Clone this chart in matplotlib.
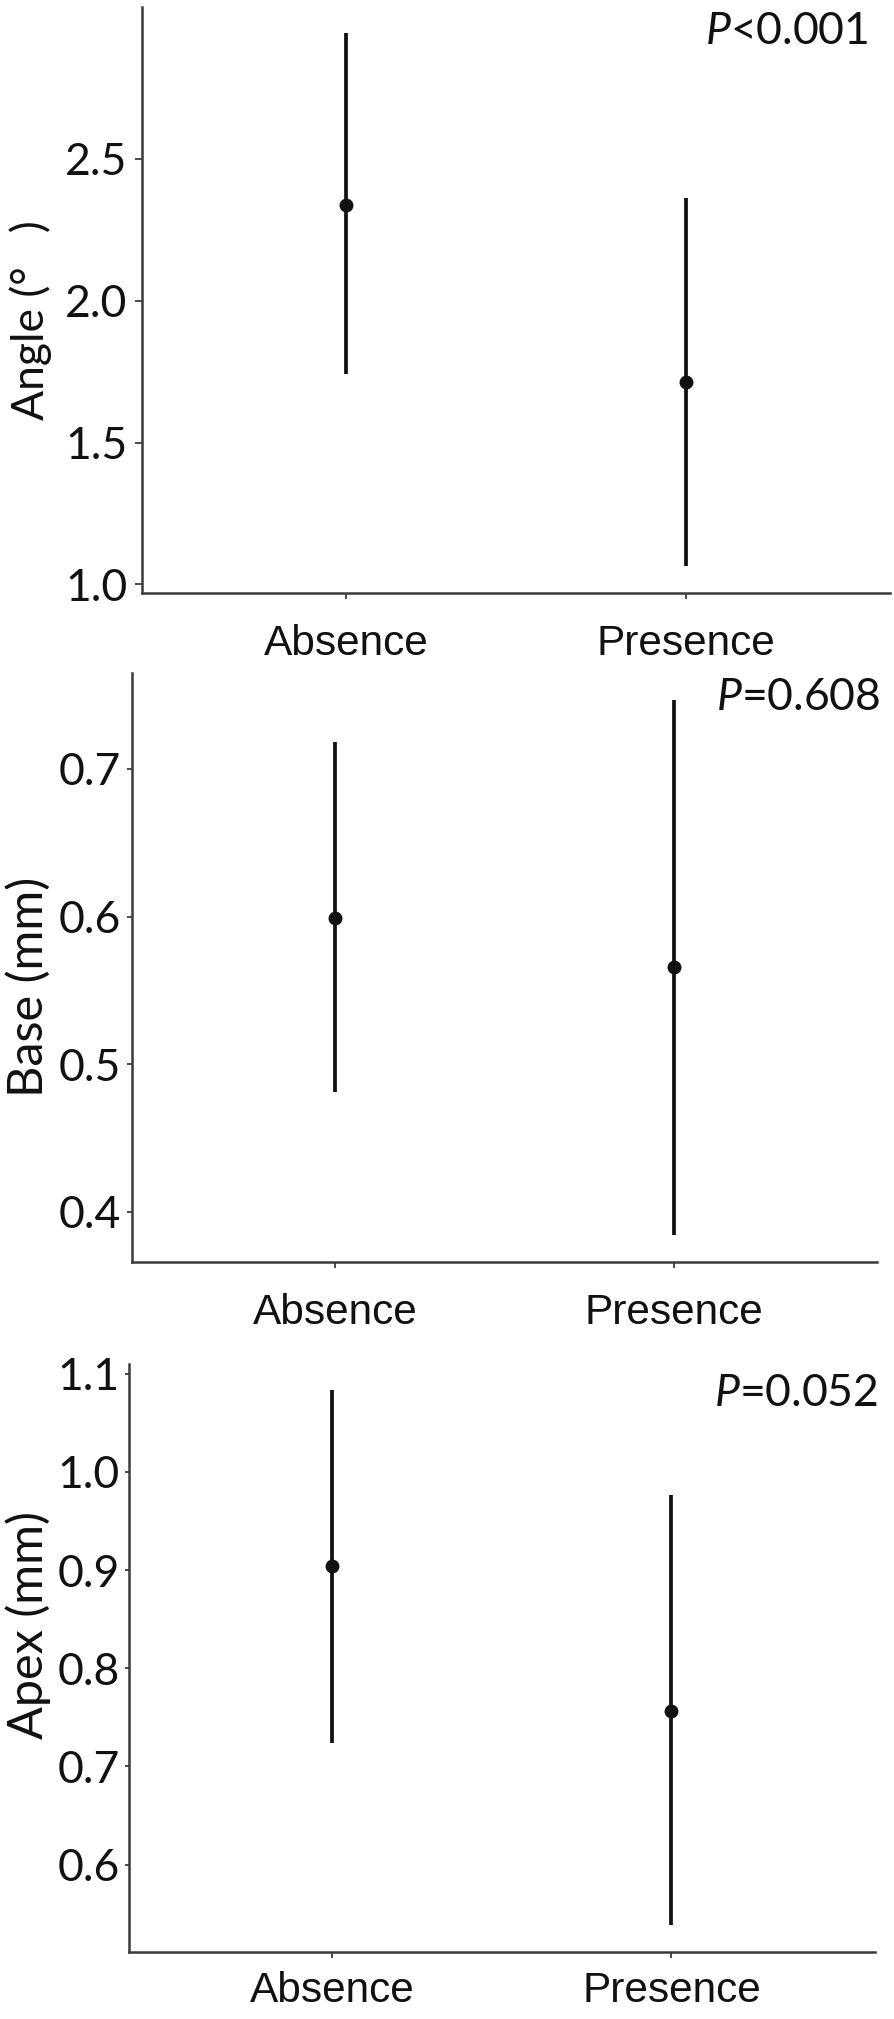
import matplotlib
matplotlib.use("Agg")
import matplotlib.pyplot as plt

plt.rcParams["font.family"] = ["Lato", "DejaVu Sans"]
plt.rcParams["mathtext.fontset"] = "custom"
plt.rcParams["mathtext.it"] = "Lato:italic"
plt.rcParams["mathtext.rm"] = "Lato"

categories = ["Absence", "Presence"]

angle_mean = [2.338, 1.714]
angle_low = [1.741, 1.066]
angle_high = [2.941, 2.363]

base_mean = [0.599, 0.566]
base_low = [0.481, 0.384]
base_high = [0.718, 0.747]

apex_mean = [0.904, 0.757]
apex_low = [0.724, 0.539]
apex_high = [1.084, 0.977]

W, H = 894, 2019
fig = plt.figure(figsize=(W / 100, H / 100), dpi=100)
fig.patch.set_facecolor("white")

ink = "#111111"
axis_col = "#3a3a3a"


def px_axes(left, top, right, bottom):
	return fig.add_axes([left / W, 1 - bottom / H, (right - left) / W, (bottom - top) / H])


panels = [
	dict(box=(142, 7, 890, 593), mean=angle_mean, low=angle_low, high=angle_high,
		ylim=(0.970, 3.034), ticks=[1.0, 1.5, 2.0, 2.5], label="Angle (°   )", lsize=32,
		label_x=31, label_y=320, ptext=r"$\mathit{P}$<0.001", pxy=(868, 31),
		ylen=5, ypad=5.5, xpad=18),
	dict(box=(131.6, 673, 877, 1262), mean=base_mean, low=base_low, high=base_high,
		ylim=(0.366, 0.765), ticks=[0.4, 0.5, 0.6, 0.7], label="Base (mm)", lsize=35,
		label_x=28, label_y=987, ptext=r"$\mathit{P}$=0.608", pxy=(880, 697),
		ylen=3.5, ypad=4, xpad=18),
	dict(box=(128.7, 1364, 875, 1952), mean=apex_mean, low=apex_low, high=apex_high,
		ylim=(0.511, 1.110), ticks=[0.6, 0.7, 0.8, 0.9, 1.0, 1.1], label="Apex (mm)", lsize=35,
		label_x=28, label_y=1625, ptext=r"$\mathit{P}$=0.052", pxy=(878, 1393),
		ylen=3, ypad=3.5, xpad=10),
]

for p in panels:
	ax = px_axes(*p["box"])
	x = [1, 2]
	yerr = [[m - lo for m, lo in zip(p["mean"], p["low"])],
		[hi - m for m, hi in zip(p["mean"], p["high"])]]
	ax.errorbar(x, p["mean"], yerr=yerr, fmt="o", color=ink, ms=9,
		elinewidth=2.7, capsize=0, zorder=3)
	ax.set_xlim(0.4, 2.6)
	ax.set_ylim(*p["ylim"])
	ax.set_xticks(x)
	ax.set_xticklabels(categories, fontfamily=["Liberation Sans", "DejaVu Sans"])
	ax.set_yticks(p["ticks"])
	ax.set_yticklabels([f"{t:.1f}" for t in p["ticks"]])
	for side in ["top", "right"]:
		ax.spines[side].set_visible(False)
	for side in ["left", "bottom"]:
		ax.spines[side].set_color(axis_col)
		ax.spines[side].set_linewidth(1.8)
	ax.tick_params(axis="y", length=p["ylen"], width=1.3, color=axis_col, labelsize=32,
		pad=p["ypad"], labelcolor=ink)
	ax.tick_params(axis="x", length=4, width=1.3, color=axis_col, labelsize=30.5,
		pad=p["xpad"], labelcolor=ink)
	ax.set_facecolor("white")
	fig.text(p["label_x"] / W, 1 - p["label_y"] / H, p["label"], rotation=90,
		ha="center", va="center", fontsize=p["lsize"], color=ink)
	fig.text(p["pxy"][0] / W, 1 - p["pxy"][1] / H, p["ptext"], ha="right", va="center",
		fontsize=32, color=ink)

fig.savefig("out.png", dpi=100, facecolor="white")
